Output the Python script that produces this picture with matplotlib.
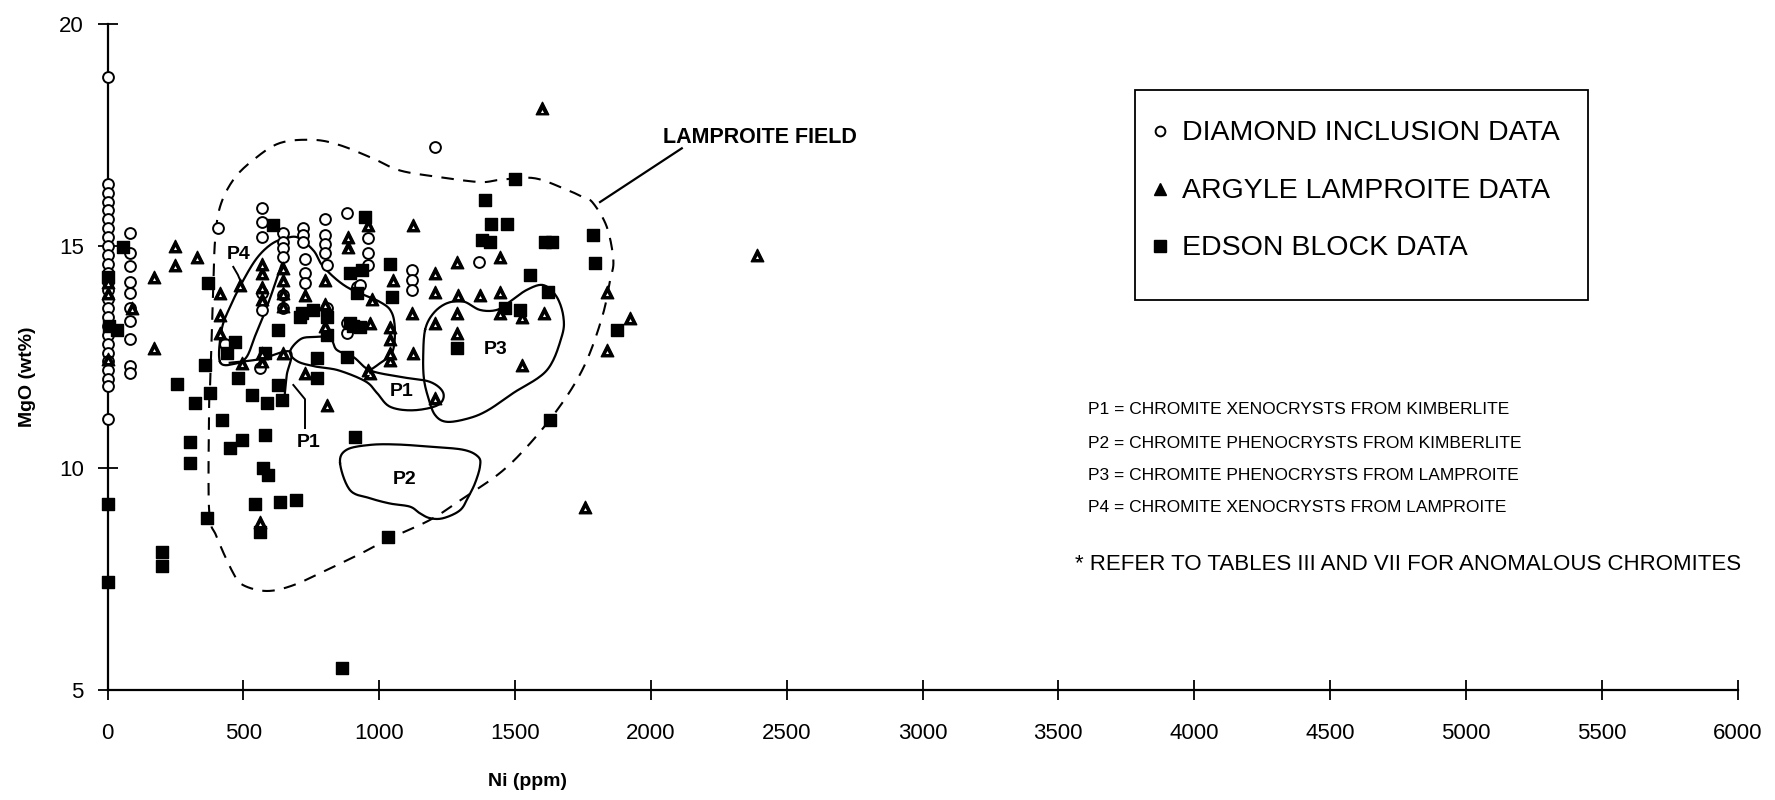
import numpy as np
import matplotlib
matplotlib.use("Agg")
import matplotlib.pyplot as plt
from matplotlib.patches import Rectangle

plt.rcParams['font.family'] = ['Liberation Sans', 'DejaVu Sans']

# ---------------- data (Ni ppm, MgO wt%) ----------------
diamond_ni = [0, 0, 0, 0, 0, 0, 0, 0, 0, 0, 0, 0, 0, 0, 0, 0, 0, 0, 0, 0, 0, 0, 0, 0, 0, 0,
              83, 83, 83, 83, 83, 83, 83, 83, 83, 83,
              405, 569, 569, 569, 569, 569, 561, 646, 646, 646, 646, 646, 646,
              720, 720, 720, 727, 727, 727, 800, 800, 800, 800, 807, 807,
              881, 959, 959, 959, 918, 929, 880, 880, 1120, 1120, 1120, 1206, 1366, 433]
diamond_mgo = [18.8, 16.4, 16.2, 16.0, 15.8, 15.6, 15.4, 15.2, 15.0, 14.8, 14.6, 14.4, 14.2,
               14.0, 13.8, 13.6, 13.4, 13.2, 13.0, 12.8, 12.6, 12.4, 12.2, 12.0, 11.85, 11.1,
               15.3, 14.85, 14.55, 14.2, 13.95, 13.6, 13.3, 12.9, 12.3, 12.15,
               15.4, 15.85, 15.55, 15.2, 13.95, 13.55, 12.25, 15.3, 15.1, 14.95, 14.75, 13.9, 13.6,
               15.4, 15.25, 15.1, 14.7, 14.4, 14.17, 15.6, 15.25, 15.05, 14.85, 14.57, 13.6,
               15.74, 15.18, 14.84, 14.57, 14.08, 14.12, 13.27, 13.05, 14.46, 14.23, 14.0, 17.23, 14.64, 12.8]

argyle_ni = [0, 0, 0, 90, 170, 170, 250, 250, 328, 414, 414, 414, 488, 494,
             569, 569, 569, 569, 569, 569, 646, 646, 646, 646, 646, 727, 727,
             800, 800, 800, 807, 886, 886, 959, 959, 966, 966, 973,
             1040, 1040, 1040, 1040, 1052, 1121, 1125, 1125, 1206, 1206, 1206, 1206,
             1285, 1285, 1285, 1290, 1371, 1445, 1445, 1445, 1526, 1525, 1605, 1600,
             1838, 1838, 1923, 2390, 1758, 561]
argyle_mgo = [14.2, 13.95, 12.45, 13.6, 14.3, 12.7, 15.0, 14.57, 14.75, 13.94, 13.45, 13.05, 14.12, 12.36,
              14.6, 14.4, 14.08, 13.8, 12.6, 12.4, 14.5, 14.23, 13.94, 13.65, 12.6, 13.9, 12.14,
              14.23, 13.7, 13.2, 11.42, 15.2, 14.97, 15.47, 12.2, 13.27, 12.14, 13.8,
              13.18, 12.9, 12.6, 12.43, 14.23, 13.49, 12.6, 15.47, 14.4, 13.96, 13.27, 11.58,
              14.64, 13.49, 13.04, 13.9, 13.9, 13.97, 14.75, 13.5, 13.4, 12.32, 13.49, 18.1,
              13.97, 12.66, 13.38, 14.8, 9.12, 8.78]

edson_ni = [0, 0, 57, 0, 5, 35, 200, 200, 255, 322, 377, 359, 421, 304, 304, 451, 495,
            580, 573, 590, 543, 635, 694, 561, 366, 863, 911, 1032, 1629, 532, 587, 642,
            628, 480, 770, 770, 880, 440, 580, 370, 610, 628, 715, 757, 807, 807, 893,
            936, 920, 929, 893, 1040, 1047, 947, 469, 905, 709, 1500, 1390, 1410, 1470,
            1378, 1408, 1610, 1635, 1787, 1795, 1555, 1622, 1518, 1463, 1285, 1875]
edson_mgo = [9.2, 7.43, 14.98, 14.3, 13.2, 13.1, 8.1, 7.8, 11.9, 11.46, 11.69, 12.32, 11.08,
             10.58, 10.11, 10.45, 10.63, 10.74, 10.0, 9.84, 9.2, 9.23, 9.28, 8.56, 8.87, 5.5,
             10.7, 8.45, 11.08, 11.64, 11.46, 11.53, 11.87, 12.03, 12.03, 12.48, 12.5, 12.6,
             12.6, 14.17, 15.47, 13.1, 13.5, 13.56, 13.4, 13.0, 14.39, 14.46, 13.95, 13.18,
             13.27, 14.6, 13.85, 15.65, 12.84, 13.2, 13.4, 16.5, 16.04, 15.5, 15.5, 15.13,
             15.1, 15.1, 15.1, 15.25, 14.62, 14.35, 13.96, 13.56, 13.6, 12.7, 13.1]

# field outlines (Ni ppm, MgO wt%)
lamproite_ni = [374, 377, 384, 390, 396, 414, 463, 537, 635, 759, 856, 978, 1077, 1224, 1371,
                1445, 1568, 1678, 1750, 1787, 1838, 1862, 1850, 1825, 1775, 1720, 1641, 1543,
                1445, 1310, 1187, 1040, 941, 806, 684, 587, 500, 463, 402, 374]
lamproite_mgo = [11.37, 11.76, 13.04, 14.17, 15.13, 15.88, 16.49, 16.94, 17.32, 17.39, 17.27,
                 16.97, 16.7, 16.55, 16.44, 16.49, 16.53, 16.3, 16.1, 15.97, 15.43, 14.68, 14.23,
                 13.49, 12.58, 11.9, 11.19, 10.47, 9.89, 9.32, 8.83, 8.42, 8.1, 7.7, 7.36, 7.23,
                 7.36, 7.63, 8.45, 9.05]
p1_ni = [672, 710, 758, 819, 844, 905, 966, 1080, 1187, 1236, 1217, 1126, 1040, 992, 950, 850, 770, 700]
p1_mgo = [12.62, 12.9, 12.95, 12.93, 12.66, 12.5, 12.2, 12.05, 11.94, 11.69, 11.42, 11.3, 11.38,
          11.69, 11.95, 12.2, 12.28, 12.4]
p2_ni = [856, 880, 966, 1064, 1187, 1310, 1365, 1371, 1353, 1328, 1298, 1236, 1187, 1150, 1113, 1040, 966, 893]
p2_mgo = [10.11, 10.41, 10.52, 10.53, 10.48, 10.41, 10.25, 10.03, 9.66, 9.35, 9.05, 8.87, 8.87,
          8.98, 9.13, 9.2, 9.32, 9.5]
p3_ni = [1169, 1199, 1249, 1310, 1371, 1433, 1482, 1543, 1604, 1653, 1678, 1672, 1617, 1494,
         1400, 1330, 1249, 1205, 1180, 1165, 1162]
p3_mgo = [13.11, 13.48, 13.71, 13.75, 13.56, 13.56, 13.75, 14.01, 14.12, 13.86, 13.41, 12.96,
          12.2, 11.69, 11.3, 11.12, 11.04, 11.2, 11.6, 12.0, 12.5]
p4_ni = [414, 420, 451, 500, 549, 598, 641, 662, 625, 585, 545, 512, 470]
p4_mgo = [12.39, 13.11, 13.63, 14.23, 14.72, 15.02, 15.14, 15.02, 14.3, 13.6, 13.0, 12.5, 12.35]
upper_ni = [641, 697, 758, 795, 880, 1003, 1047, 1058, 1047, 1003, 966]
upper_mgo = [15.14, 15.2, 14.9, 14.53, 14.08, 13.74, 13.49, 13.04, 12.59, 12.36, 12.2]
stem_ni = [450, 560, 672, 660, 653]
stem_mgo = [12.37, 12.45, 12.62, 12.1, 11.69]

legend_labels = ["DIAMOND INCLUSION DATA", "ARGYLE LAMPROITE DATA", "EDSON BLOCK DATA"]
note_lines = ["P1 = CHROMITE XENOCRYSTS FROM KIMBERLITE",
              "P2 = CHROMITE PHENOCRYSTS FROM KIMBERLITE",
              "P3 = CHROMITE PHENOCRYSTS FROM LAMPROITE",
              "P4 = CHROMITE XENOCRYSTS FROM LAMPROITE"]
footnote = "* REFER TO TABLES III AND VII FOR ANOMALOUS CHROMITES"
x_ticks = list(range(0, 6001, 500))
y_ticks = [5, 10, 15, 20]


def catmull(xs, ys, closed=True, n=16):
    P = np.column_stack([xs, ys]).astype(float)
    if not closed:
        P = np.vstack([P[0], P, P[-1]])
    N = len(P)
    out = []
    rng = range(N) if closed else range(1, N - 2)
    t = np.linspace(0, 1, n, endpoint=False)[:, None]
    for i in rng:
        p0, p1, p2, p3 = P[(i - 1) % N], P[i], P[(i + 1) % N], P[(i + 2) % N]
        pts = 0.5 * (2 * p1 + (-p0 + p2) * t + (2 * p0 - 5 * p1 + 4 * p2 - p3) * t ** 2
                     + (-p0 + 3 * p1 - 3 * p2 + p3) * t ** 3)
        out.append(pts)
    out = np.vstack(out)
    if closed:
        out = np.vstack([out, out[:1]])
    else:
        out = np.vstack([out, P[-2]])
    return out[:, 0], out[:, 1]


W, H = 1775, 800
fig = plt.figure(figsize=(W / 100, H / 100), dpi=100)
ax = fig.add_axes([107.5 / W, 1 - 690 / H, 1630 / W, 666 / H])
ax.set_xlim(0, 6000)
ax.set_ylim(5, 20)

for s in ['top', 'right']:
    ax.spines[s].set_visible(False)
for s in ['left', 'bottom']:
    ax.spines[s].set_linewidth(1.6)

ax.set_xticks(x_ticks)
ax.set_yticks(y_ticks)
ax.tick_params(axis='both', direction='inout', length=14, width=1.3, labelsize=16)
ax.tick_params(axis='x', pad=17)
ax.tick_params(axis='y', pad=10)

# outlines
lx, ly = catmull(lamproite_ni, lamproite_mgo)
ax.plot(lx, ly, color='black', lw=1.5, ls=(0, (6, 4.5)), zorder=2)
for xs, ys in [(p1_ni, p1_mgo), (p2_ni, p2_mgo), (p3_ni, p3_mgo), (p4_ni, p4_mgo)]:
    cx, cy = catmull(xs, ys)
    ax.plot(cx, cy, color='black', lw=1.6, zorder=2)
for xs, ys in [(upper_ni, upper_mgo), (stem_ni, stem_mgo)]:
    cx, cy = catmull(xs, ys, closed=False)
    ax.plot(cx, cy, color='black', lw=1.6, zorder=2)

# points
ax.scatter(diamond_ni, diamond_mgo, s=7.8 ** 2, marker='o', facecolors='white',
           edgecolors='black', linewidths=1.4, zorder=4, clip_on=False)
ax.scatter(argyle_ni, argyle_mgo, s=9 ** 2, marker='^', color='black', zorder=5, clip_on=False)
ax.scatter(argyle_ni, np.array(argyle_mgo) - 0.05, s=2.2 ** 2, marker='^', color='white',
           linewidths=0, zorder=6, clip_on=False)
ax.scatter(edson_ni, edson_mgo, s=8.8 ** 2, marker='s', color='black', zorder=5, clip_on=False)

# annotations in the plot
bold = dict(fontweight='bold', color='black')
ax.text(2045, 17.45, "LAMPROITE FIELD", fontsize=15.5, va='center', ha='left', **bold)
ax.plot([2114, 1813], [17.2, 15.99], color='black', lw=1.6)
ax.text(482, 14.8, "P4", fontsize=14, ha='center', va='center', **bold)
ax.plot([463, 480, 496], [14.53, 14.35, 14.12], color='black', lw=1.4)
ax.text(739, 10.58, "P1", fontsize=14, ha='center', va='center', **bold)
ax.plot([727, 727, 684], [10.9, 11.55, 11.87], color='black', lw=1.4)
ax.text(1084, 11.72, "P1", fontsize=14, ha='center', va='center', **bold)
ax.text(1095, 9.73, "P2", fontsize=14, ha='center', va='center', **bold)
ax.text(1427, 12.66, "P3", fontsize=14, ha='center', va='center', **bold)

# axis titles
fig.text(527 / W, 1 - 781 / H, "Ni (ppm)", fontsize=14, ha='center', va='center', **bold)
fig.text(28 / W, 1 - 377 / H, "MgO (wt%)", fontsize=14, rotation=90, ha='center', va='center', **bold)

# legend box
def fx(px):
    return px / W

def fy(py):
    return 1 - py / H

fig.patches.append(Rectangle((fx(1135), fy(300)), fx(1588) - fx(1135), fy(90) - fy(300),
                             transform=fig.transFigure, fill=False, edgecolor='black', lw=1.3))
rows = [131, 189, 246]
fig.lines.append(plt.Line2D([fx(1160)], [fy(rows[0])], transform=fig.transFigure, marker='o',
                            ms=7, mfc='white', mec='black', mew=1.4, ls='none'))
fig.lines.append(plt.Line2D([fx(1160)], [fy(rows[1])], transform=fig.transFigure, marker='^',
                            ms=8.5, color='black', ls='none'))
fig.lines.append(plt.Line2D([fx(1160)], [fy(rows[2])], transform=fig.transFigure, marker='s',
                            ms=8.5, color='black', ls='none'))
for r, lab in zip(rows, legend_labels):
    fig.text(fx(1182), fy(r + 2), lab, fontsize=20.5, ha='left', va='center', color='black')

# notes
for r, line in zip([410, 443, 475, 508], note_lines):
    fig.text(fx(1088), fy(r), line, fontsize=12.5, ha='left', va='center', color='black')
fig.text(fx(1075), fy(565), footnote, fontsize=16, ha='left', va='center', color='black')

fig.savefig("out.png", dpi=100, facecolor='white')
